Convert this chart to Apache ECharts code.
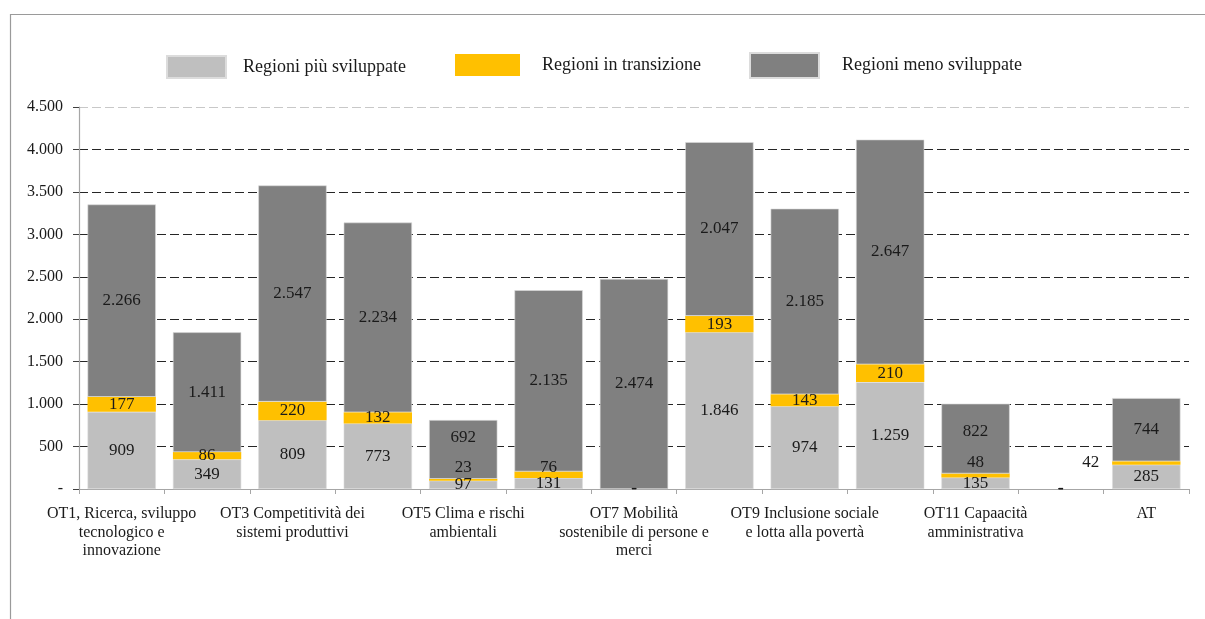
<!DOCTYPE html>
<html>
<head>
<meta charset="utf-8">
<title>Risorse per obiettivo tematico e categoria di regioni</title>
<script src="https://cdn.jsdelivr.net/npm/echarts@6/dist/echarts.min.js"></script>
<style>
  html, body { margin: 0; padding: 0; background: #ffffff; }
  #chart { width: 1205px; height: 619px; }
</style>
</head>
<body>
<div id="chart"></div>
<script>
// Categorie (obiettivi tematici); solo una etichetta su due viene mostrata sull'asse
const categories = [
  'OT1, Ricerca, sviluppo\ntecnologico e\ninnovazione',
  'OT2',
  'OT3 Competitività dei\nsistemi produttivi',
  'OT4',
  'OT5 Clima e rischi\nambientali',
  'OT6',
  'OT7 Mobilità\nsostenibile di persone e\nmerci',
  'OT8',
  'OT9 Inclusione sociale\ne lotta alla povertà',
  'OT10',
  'OT11 Capaacità\namministrativa',
  '',
  'AT'
];

// Serie (valori in milioni di euro)
const seriesNames = ['Regioni più sviluppate', 'Regioni in transizione', 'Regioni meno sviluppate'];
const piuSviluppate  = [909, 349, 809, 773, 97, 131, 0, 1846, 974, 1259, 135, 0, 285];
const inTransizione  = [177, 86, 220, 132, 23, 76, 0, 193, 143, 210, 48, 0, 42];
const menoSviluppate = [2266, 1411, 2547, 2234, 692, 2135, 2474, 2047, 2185, 2647, 822, 0, 744];

// Asse dei valori
const yMin = 0, yMax = 4500, yStep = 500;

const colors = ['#BFBFBF', '#FFC000', '#808080'];
const borderWidths = [0.6, 0, 0.6];
const FONT = 'Liberation Serif';

// Spostamenti delle etichette che altrimenti si sovrappongono
const labelShift = [
  {},
  { 4: [0, -12], 5: [0, -7], 10: [0, -13] },
  { 4: [0, -12], 10: [0, -7] }
];
// L'etichetta della quota "in transizione" di AT sta a sinistra della barra
const sideLabel = { series: 1, index: 12 };

const fmt = v => String(v).replace(/\B(?=(\d{3})+(?!\d))/g, '.');

function buildData(values, s) {
  return values.map((v, i) => {
    const item = { value: v };
    if (v === 0) item.itemStyle = { borderWidth: 0 };
    if (labelShift[s][i]) item.label = { offset: labelShift[s][i] };
    if (sideLabel.series === s && sideLabel.index === i) {
      item.label = { position: 'left', distance: 13 };
    }
    return item;
  });
}

const allValues = [piuSviluppate, inTransizione, menoSviluppate];

const series = allValues.map((vals, s) => ({
  name: seriesNames[s],
  type: 'bar',
  stack: 'totale',
  barCategoryGap: '20%',
  data: buildData(vals, s),
  itemStyle: { color: colors[s], borderColor: '#dcdcdc', borderWidth: borderWidths[s] },
  label: {
    show: true,
    position: 'inside',
    fontFamily: FONT,
    fontSize: 17,
    color: '#1a1a1a',
    formatter: p => (p.value === 0 ? '-' : fmt(p.value))
  },
  emphasis: { disabled: true }
}));

// Tre legende separate, una per serie
const legendBoxes = [
  { left: 166, top: 55, w: 59, h: 22, pad: 12 },
  { left: 455, top: 54, w: 65, h: 22, pad: 17 },
  { left: 749, top: 52, w: 69, h: 25, pad: 18 }
];
const legends = legendBoxes.map((b, s) => ({
  data: [seriesNames[s]],
  left: b.left,
  top: b.top,
  padding: 0,
  itemWidth: b.w,
  itemHeight: b.h,
  icon: 'rect',
  selectedMode: false,
  textStyle: { fontFamily: FONT, fontSize: 18, color: '#1a1a1a', padding: [8, 0, 0, b.pad] }
}));

// Colori delle linee di griglia: quella superiore più chiara
const gridColors = [];
for (let v = yMin; v <= yMax; v += yStep) {
  gridColors.push(v === yMin ? 'rgba(0,0,0,0)' : (v === yMax ? '#c8c8c8' : '#262626'));
}

const chart = echarts.init(document.getElementById('chart'), null, { renderer: 'canvas' });
chart.setOption({
  animation: false,
  backgroundColor: '#ffffff',
  graphic: [{
    type: 'rect',
    silent: true,
    shape: { x: 10.5, y: 14.5, width: 1400, height: 800 },
    style: { fill: 'none', stroke: '#9a9a9a', lineWidth: 1.2 }
  }],
  legend: legends,
  grid: { left: 79, right: 16, top: 107, bottom: 130, containLabel: false },
  xAxis: {
    type: 'category',
    data: categories,
    axisLine: { lineStyle: { color: '#a6a6a6', width: 1.2 } },
    axisTick: { show: true, interval: 0, length: 5, lineStyle: { color: '#a6a6a6' } },
    axisLabel: {
      interval: 1,
      margin: 16,
      fontFamily: FONT,
      fontSize: 16,
      lineHeight: 18.5,
      color: '#1a1a1a'
    }
  },
  yAxis: {
    type: 'value',
    min: yMin,
    max: yMax,
    interval: yStep,
    axisLine: { show: true, lineStyle: { color: '#a6a6a6', width: 1.2 } },
    axisTick: { show: true, length: 6, lineStyle: { color: '#404040' } },
    axisLabel: {
      margin: 16,
      fontFamily: FONT,
      fontSize: 16,
      color: '#1a1a1a',
      formatter: v => (v === 0 ? '-' : fmt(v))
    },
    splitLine: {
      show: true,
      lineStyle: { color: gridColors, type: [9, 4], width: 1.2 }
    }
  },
  series: series
});
</script>
</body>
</html>
